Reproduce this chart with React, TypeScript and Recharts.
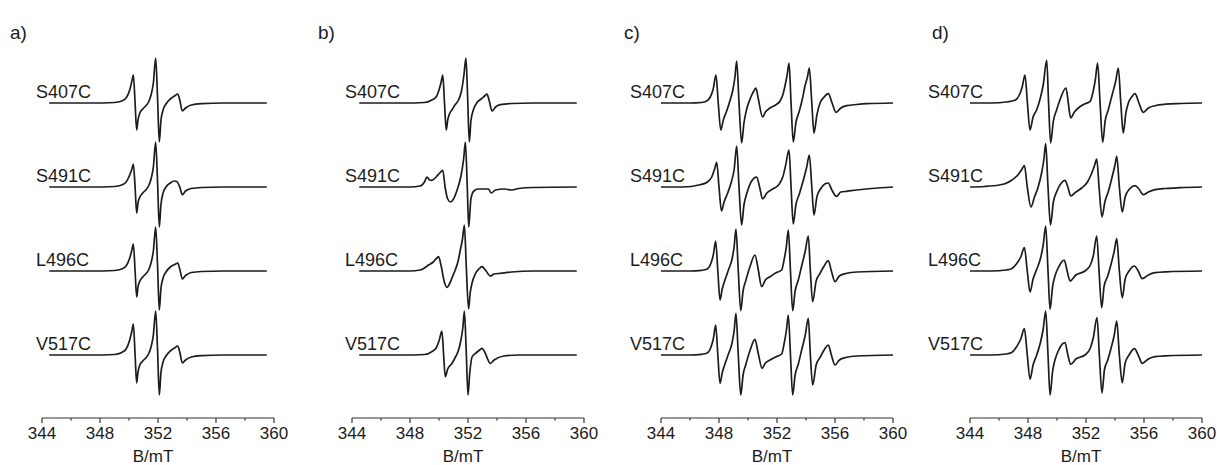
import React from 'react';
import { LineChart, Line, XAxis, YAxis } from 'recharts';

type Pt = [number, number];

// field axis
const FIELD_TICKS = [344, 346, 348, 350, 352, 354, 356, 358, 360];
const TICK_LABELS = [344, 348, 352, 356, 360];
const MUTANTS = ['S407C', 'S491C', 'L496C', 'V517C'];
const PANEL_NAMES = ['a)', 'b)', 'c)', 'd)'];

// spectra: [B/mT, derivative signal]
const a_S407C: Pt[] = [[344.5,0],[347.5,0],[349.0,0.5],[349.5,2],[349.8,5],[350.05,13],[350.2,22],[350.3,28],[350.42,0],[350.53,-27],[350.62,-17],[350.75,-10],[350.95,-6],[351.15,-3],[351.35,1],[351.52,8],[351.68,20],[351.84,45],[351.97,5],[352.09,-39],[352.2,-18],[352.35,-7],[352.55,-1],[352.85,4],[353.15,7],[353.36,9],[353.5,3],[353.68,-8],[353.9,-5],[354.3,-2],[355.0,-0.7],[356.5,0],[359.5,0]];
const a_S491C: Pt[] = [[344.5,0],[347.5,0],[349.0,0.5],[349.5,2],[349.8,5],[350.05,12],[350.2,18],[350.3,23],[350.42,0],[350.53,-26],[350.62,-16],[350.75,-10],[350.95,-6],[351.15,-3],[351.35,1],[351.52,8],[351.68,20],[351.84,45],[351.97,5],[352.09,-40],[352.2,-18],[352.35,-6],[352.55,0],[352.85,4],[353.1,6],[353.3,5.5],[353.5,0],[353.68,-7.7],[353.9,-4],[354.3,-1.5],[355.0,-0.5],[356.5,0],[359.5,0]];
const a_L496C: Pt[] = [[344.5,0],[347.5,0],[349.0,0.5],[349.5,2],[349.8,5],[350.05,13],[350.2,21],[350.3,27],[350.42,0],[350.53,-26],[350.62,-16],[350.75,-10],[350.95,-6],[351.15,-3],[351.35,1],[351.52,8],[351.68,20],[351.84,44],[351.97,5],[352.09,-39],[352.2,-18],[352.35,-7],[352.55,-1],[352.85,4],[353.15,6.5],[353.36,8],[353.5,2],[353.68,-8],[353.9,-4.5],[354.3,-1.5],[355.0,-0.5],[356.5,0],[359.5,0]];
const a_V517C: Pt[] = [[344.5,0],[347.5,0],[349.0,0.5],[349.5,2.5],[349.8,6],[350.05,15],[350.2,24],[350.3,31],[350.42,0],[350.53,-28],[350.62,-17],[350.75,-10],[350.95,-6],[351.15,-3],[351.35,1],[351.52,8],[351.68,20],[351.84,44],[351.97,5],[352.09,-40],[352.2,-18],[352.35,-7],[352.55,-1],[352.85,4],[353.15,7],[353.36,9],[353.5,3],[353.68,-8],[353.9,-5],[354.3,-2],[355.0,-0.7],[356.5,0],[359.5,0]];

const b_S407C: Pt[] = [[344.5,0],[347.5,0],[349.0,0.5],[349.5,3],[349.8,6],[350.0,13],[350.15,21],[350.26,28],[350.38,0],[350.5,-27],[350.6,-17],[350.75,-10],[350.9,-6.7],[351.1,-2],[351.35,3],[351.55,12],[351.72,28],[351.86,45],[351.98,3],[352.09,-39],[352.2,-18],[352.39,-6],[352.6,0],[352.9,4],[353.15,7],[353.31,9],[353.45,3],[353.66,-8],[353.9,-4],[354.23,-1.7],[355.0,-0.5],[356.5,0],[359.5,0]];
const b_S491C: Pt[] = [[344.5,0],[348.0,0],[348.7,1],[349.0,5],[349.17,10],[349.35,7],[349.5,6.7],[349.8,10],[350.05,14],[350.26,16.7],[350.42,0],[350.6,-12],[350.8,-15],[351.0,-12],[351.25,-3],[351.5,10],[351.7,28],[351.82,45],[351.95,0],[352.05,-40],[352.2,-12],[352.4,-4],[352.7,-2],[353.2,-2],[353.4,-2],[353.6,-6],[353.9,-3],[354.5,-2],[355.0,-3],[355.5,-1.5],[356.5,-0.5],[359.5,0]];
const b_L496C: Pt[] = [[344.5,0],[348.0,0],[348.7,1],[349.0,3],[349.28,6],[349.6,9],[349.85,13],[349.97,14.3],[350.15,5],[350.35,-10],[350.55,-16.3],[350.75,-12],[350.95,-5],[351.12,1],[351.32,10],[351.47,21],[351.62,32],[351.75,46],[351.88,5],[352.04,-38],[352.15,-22],[352.28,-12],[352.5,-3],[352.75,2],[352.97,4.3],[353.2,1],[353.54,-5],[353.8,-3],[354.23,-2.3],[355.0,-1],[356.5,0],[359.5,0]];
const b_V517C: Pt[] = [[344.5,0],[347.5,0],[349.0,0.5],[349.5,3.3],[349.8,7],[350.0,14],[350.2,24],[350.32,0],[350.43,-21.7],[350.6,-14],[350.9,-8.3],[351.1,-3],[351.35,5],[351.5,14],[351.65,28],[351.75,44],[351.88,3],[352.0,-40],[352.12,-18],[352.28,-2],[352.55,2],[352.8,5],[352.97,6.7],[353.15,3],[353.54,-8.3],[353.8,-5],[354.46,-1],[355.5,0],[359.5,0]];

const c_S407C: Pt[] = [[344,0],[346.0,0],[346.8,0.5],[347.15,2],[347.4,6],[347.6,14],[347.79,28],[347.95,0],[348.12,-27],[348.3,-17],[348.53,-8],[348.75,2],[348.94,12],[349.1,26],[349.22,42],[349.38,0],[349.56,-40],[349.72,-20],[349.91,-6],[350.2,6],[350.4,12],[350.55,15],[350.7,5],[351.01,-14],[351.2,-9],[351.52,-5],[351.9,-2],[352.21,2],[352.4,8],[352.55,17],[352.7,28],[352.83,40],[352.97,0],[353.12,-39],[353.3,-20],[353.54,-8],[353.75,4],[353.93,17],[354.1,26],[354.23,35],[354.4,0],[354.55,-30],[354.75,-12],[354.97,0],[355.25,6],[355.54,9.3],[355.8,0],[356.07,-9.3],[356.4,-5],[356.81,-2.7],[357.5,-1.5],[358.19,-0.7],[360,0]];
const c_S491C: Pt[] = [[344,0],[345.5,0],[346.69,2.3],[347.2,5],[347.5,10],[347.7,18],[347.84,24.7],[348.0,0],[348.17,-24],[348.35,-15],[348.6,-6],[348.85,5],[349.05,18],[349.22,41],[349.38,0],[349.56,-38],[349.72,-18],[349.95,-5],[350.25,6],[350.6,10],[350.8,0],[351.01,-12],[351.3,-6],[351.7,-2],[352.1,2],[352.4,10],[352.6,22],[352.83,37],[352.97,0],[353.12,-37],[353.3,-18],[353.54,-7],[353.8,6],[354.05,20],[354.23,32],[354.4,0],[354.55,-28],[354.75,-10],[355.0,-2],[355.3,3],[355.54,4],[355.75,-2],[356.1,-9.3],[356.4,-5],[356.81,-4.3],[357.5,-3],[358.5,-1.5],[360,0]];
const c_L496C: Pt[] = [[344,0],[346.0,0],[346.8,0.7],[347.15,1.7],[347.45,8],[347.62,17],[347.77,30],[347.92,0],[348.07,-29],[348.22,-18],[348.41,-9],[348.65,1],[348.9,12],[349.05,25],[349.17,42],[349.33,0],[349.5,-39.7],[349.66,-20],[349.86,-9],[350.15,5],[350.48,16],[350.7,2],[350.94,-15.7],[351.2,-9],[351.52,-5.7],[351.9,-2],[352.32,1],[352.5,12],[352.65,25],[352.78,41],[352.93,0],[353.08,-39.7],[353.25,-20],[353.47,-9],[353.7,5],[353.95,20],[354.16,35],[354.3,0],[354.46,-30.7],[354.7,-10],[354.97,-2.3],[355.25,5],[355.54,10.3],[355.75,0],[356.0,-10.7],[356.3,-5],[356.81,-2.3],[357.5,-1],[360,0]];
const c_V517C: Pt[] = [[344,0],[346.0,0],[346.8,0.7],[347.15,1.7],[347.45,8],[347.62,17],[347.77,30],[347.92,0],[348.07,-28.3],[348.22,-18],[348.41,-9],[348.65,1],[348.9,12],[349.05,25],[349.17,41.7],[349.33,0],[349.5,-40],[349.66,-20],[349.86,-9],[350.15,5],[350.48,15.7],[350.7,2],[350.97,-13.3],[351.2,-8],[351.52,-5],[351.9,-2],[352.32,1],[352.5,12],[352.65,25],[352.78,40],[352.93,0],[353.08,-40],[353.25,-20],[353.47,-9],[353.7,5],[353.95,20],[354.16,36.7],[354.3,0],[354.46,-30],[354.7,-10],[354.97,-2.3],[355.25,5],[355.54,10],[355.75,0],[356.0,-10],[356.3,-5],[356.81,-2.3],[357.5,-1],[360,0]];

const d_S407C: Pt[] = [[344,0],[345.5,0],[346.5,1],[347.1,2.7],[347.4,8],[347.6,16],[347.79,28],[347.96,0],[348.14,-27],[348.35,-14],[348.6,-6.7],[348.85,5],[349.05,18],[349.29,43],[349.42,0],[349.56,-40],[349.75,-18],[349.98,-6.7],[350.25,5],[350.62,15],[350.78,0],[350.94,-15],[351.2,-9],[351.47,-5],[351.9,-1],[352.28,1.7],[352.5,12],[352.65,24],[352.8,40],[352.97,0],[353.15,-39.3],[353.32,-18],[353.54,-6.7],[353.8,8],[354.05,22],[354.23,35],[354.4,0],[354.57,-30],[354.75,-10],[354.92,0],[355.15,6],[355.38,9.3],[355.65,0],[355.95,-9.3],[356.3,-5],[356.76,-2.7],[357.5,-1.2],[358.5,-0.5],[360,0]];
const d_S491C: Pt[] = [[344,0],[345.0,0.5],[346.0,2],[346.41,3.3],[346.9,7],[347.3,12],[347.55,17],[347.75,21.3],[347.95,0],[348.2,-20],[348.45,-10],[348.7,0],[348.95,15],[349.1,28],[349.22,43.3],[349.38,0],[349.55,-38],[349.75,-15],[350.0,-4],[350.3,4],[350.55,6.7],[350.75,0],[350.95,-9],[351.3,-5],[351.7,-1],[352.1,5],[352.4,14],[352.6,22],[352.74,28],[352.9,0],[353.1,-30],[353.3,-15],[353.55,-4],[353.8,10],[354.0,22],[354.12,30.7],[354.3,0],[354.5,-25],[354.7,-10],[355.0,-2],[355.38,1.3],[355.65,-2],[355.95,-7.7],[356.3,-5],[356.76,-2.7],[357.5,-1.5],[358.5,-0.7],[360,0]];
const d_L496C: Pt[] = [[344,0],[345.5,0],[346.5,1],[346.87,2.3],[347.2,7],[347.5,14],[347.75,23.3],[347.95,0],[348.14,-21],[348.35,-8],[348.6,1.7],[348.85,12],[349.05,26],[349.22,45],[349.38,0],[349.52,-38.3],[349.7,-15],[349.86,-5],[350.15,5],[350.5,11],[350.7,0],[350.9,-10],[351.3,-4],[351.93,0],[352.3,6],[352.5,15],[352.74,35],[352.9,0],[353.08,-36.7],[353.25,-15],[353.5,-5],[353.75,8],[353.95,20],[354.12,32.3],[354.3,0],[354.5,-26.7],[354.7,-8],[354.97,0],[355.34,5],[355.6,0],[355.88,-7.7],[356.3,-4],[356.76,-1.7],[357.5,-0.8],[360,0]];
const d_V517C: Pt[] = [[344,0],[345.5,0],[346.5,1],[346.87,2.5],[347.2,8],[347.5,16],[347.75,26.3],[347.95,0],[348.14,-24.3],[348.35,-10],[348.6,0],[348.85,12],[349.05,26],[349.22,44],[349.38,0],[349.52,-40],[349.7,-16],[349.86,-5],[350.15,6],[350.55,12.3],[350.75,0],[350.94,-9.3],[351.3,-4],[351.93,0],[352.3,7],[352.5,17],[352.76,37.3],[352.92,0],[353.1,-38],[353.27,-15],[353.5,-5],[353.75,8],[353.95,20],[354.12,34],[354.3,0],[354.5,-27.7],[354.7,-8],[354.97,0],[355.34,6.3],[355.6,0],[355.88,-8.3],[356.3,-4],[356.76,-1.7],[357.5,-0.8],[360,0]];

const PANEL_TRACES: Pt[][][] = [
  [a_S407C, a_S491C, a_L496C, a_V517C],
  [b_S407C, b_S491C, b_L496C, b_V517C],
  [c_S407C, c_S491C, c_L496C, c_V517C],
  [d_S407C, d_S491C, d_L496C, d_V517C],
];

// layout
const FONT = '"Liberation Sans", Arial, Helvetica, sans-serif';
const INK = '#1c1c1c';
const PANEL_X = [42, 352, 661, 970];
const LABEL_X = [36, 345, 630, 928];
const LETTER_X = [10, 318, 624, 932];
const PLOT_W = 232;
const SIDE = 30;
const TOP = 40;
const AXIS_Y = 418;
const CHART_H = 465 - TOP;
const ROW_BASE = [103, 187, 271, 355];

const FieldTick = (props: any) => {
  const { x, y, payload } = props;
  const major = TICK_LABELS.includes(payload.value);
  return (
    <g>
      <line x1={x} x2={x} y1={y} y2={y + (major ? 5 : 2.5)} stroke="#333" strokeWidth={1.2} />
      {major && (
        <text x={x} y={y + 21} textAnchor="middle" fontSize={17} fontFamily={FONT} fill={INK}>
          {payload.value}
        </text>
      )}
    </g>
  );
};

const Panel = ({ idx }: { idx: number }) => {
  const traces = PANEL_TRACES[idx];
  return (
    <>
      <div style={{ position: 'absolute', left: PANEL_X[idx] - SIDE, top: TOP }}>
        <LineChart width={PLOT_W + 2 * SIDE} height={CHART_H} margin={{ top: 0, right: SIDE, bottom: 0, left: SIDE }}>
          <XAxis
            dataKey="x"
            type="number"
            domain={[344, 360]}
            allowDataOverflow
            ticks={FIELD_TICKS}
            interval={0}
            height={CHART_H - (AXIS_Y - TOP)}
            tickSize={0}
            tickMargin={0}
            tickLine={false}
            axisLine={{ stroke: '#333', strokeWidth: 1.2 }}
            tick={<FieldTick />}
          />
          {ROW_BASE.map((b, r) => (
            <YAxis
              key={r}
              yAxisId={r}
              hide
              type="number"
              domain={[-(AXIS_Y - b), b - TOP]}
              allowDataOverflow
            />
          ))}
          {traces.map((tr, r) => (
            <Line
              key={r}
              yAxisId={r}
              data={tr.map(([x, y]) => ({ x, y }))}
              dataKey="y"
              type="monotone"
              stroke={INK}
              strokeWidth={1.7}
              dot={false}
              activeDot={false}
              isAnimationActive={false}
            />
          ))}
        </LineChart>
      </div>
      {MUTANTS.map((m, r) => (
        <div
          key={m}
          style={{
            position: 'absolute',
            left: LABEL_X[idx],
            top: ROW_BASE[r] - 5 - 15.2,
            fontSize: 18,
            lineHeight: '18px',
            fontFamily: FONT,
            color: INK,
            whiteSpace: 'nowrap',
          }}
        >
          {m}
        </div>
      ))}
      <div
        style={{
          position: 'absolute',
          left: LETTER_X[idx],
          top: 23,
          fontSize: 19,
          lineHeight: '19px',
          fontFamily: FONT,
          color: INK,
        }}
      >
        {PANEL_NAMES[idx]}
      </div>
      <div
        style={{
          position: 'absolute',
          left: PANEL_X[idx] + PLOT_W / 2 - 5 - 40,
          width: 80,
          top: 449,
          height: 15,
          textAlign: 'center',
          fontSize: 17,
          lineHeight: '15px',
          fontFamily: FONT,
          color: INK,
        }}
      >
        B/mT
      </div>
    </>
  );
};

export default function App() {
  return (
    <div
      style={{
        position: 'absolute',
        left: 0,
        top: 0,
        width: 1217,
        height: 465,
        background: '#fff',
        overflow: 'hidden',
      }}
    >
      {PANEL_NAMES.map((_, i) => (
        <Panel key={i} idx={i} />
      ))}
    </div>
  );
}
